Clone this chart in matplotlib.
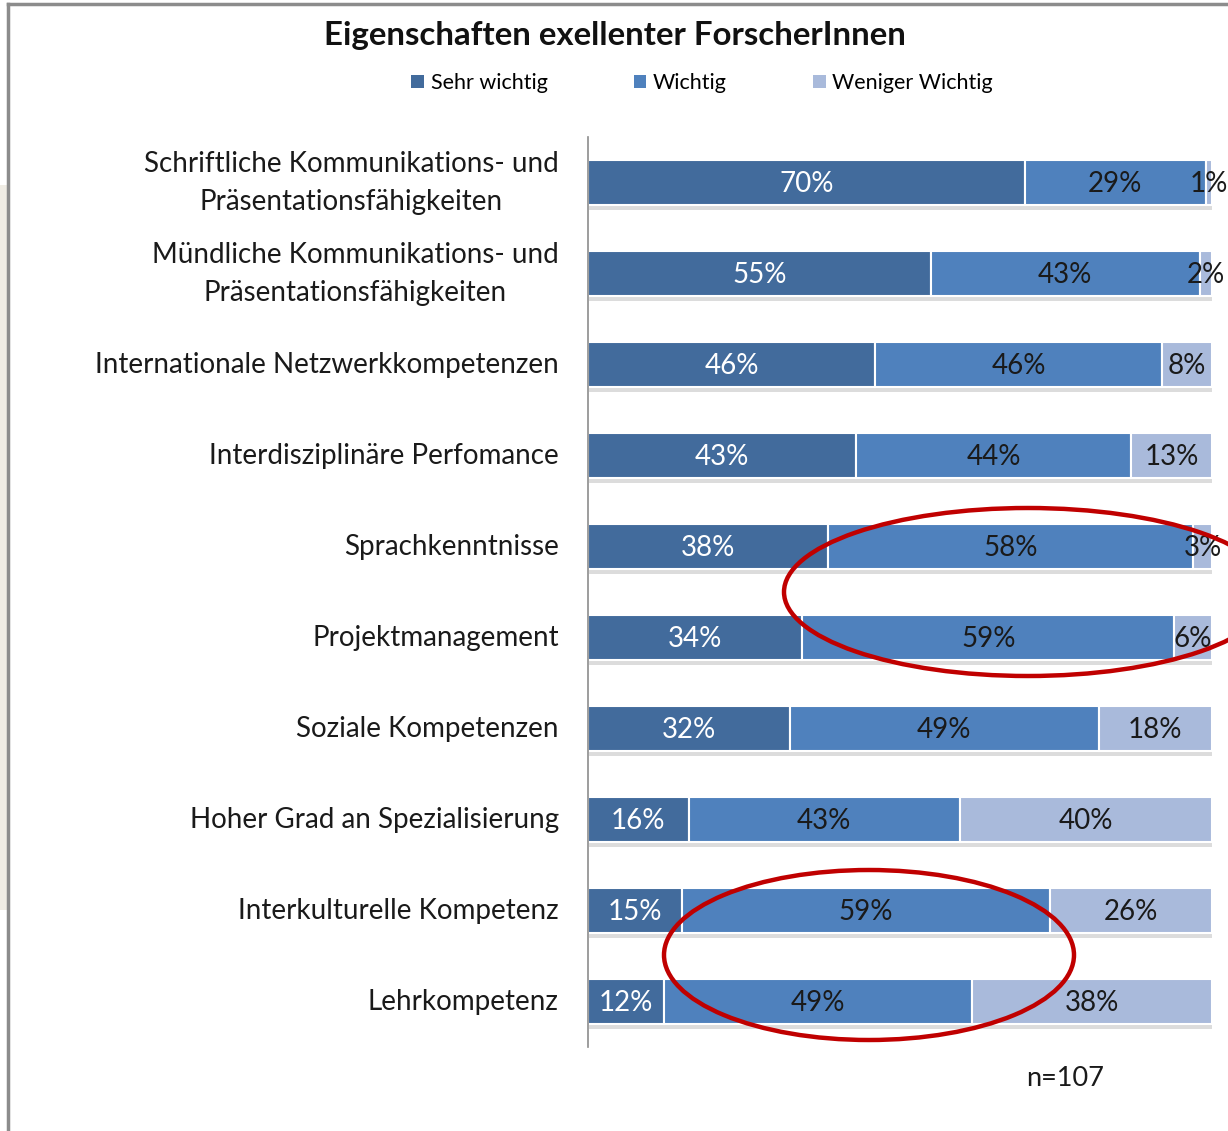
import numpy as np
import matplotlib
matplotlib.use("Agg")
import matplotlib.pyplot as plt
from matplotlib.patches import Ellipse, Rectangle
from matplotlib.lines import Line2D
from matplotlib.transforms import ScaledTranslation
import matplotlib.patheffects as pe

plt.rcParams['font.family'] = ['Lato', 'DejaVu Sans']

# data
categories = [
    "Schriftliche Kommunikations- und\nPräsentationsfähigkeiten",
    "Mündliche Kommunikations- und\nPräsentationsfähigkeiten",
    "Internationale Netzwerkkompetenzen",
    "Interdisziplinäre Perfomance",
    "Sprachkenntnisse",
    "Projektmanagement",
    "Soziale Kompetenzen",
    "Hoher Grad an Spezialisierung",
    "Interkulturelle Kompetenz",
    "Lehrkompetenz",
]
sehr_wichtig = [70, 55, 46, 43, 38, 34, 32, 16, 15, 12]
wichtig = [29, 43, 46, 44, 58, 59, 49, 43, 59, 49]
weniger_wichtig = [1, 2, 8, 13, 3, 6, 18, 40, 26, 38]
series_names = ["Sehr wichtig", "Wichtig", "Weniger Wichtig"]
colors = ["#426B9C", "#4F81BD", "#A9BADB"]
label_colors = ["white", "#1a1a1a", "#1a1a1a"]

W, H = 1228, 1131
fig = plt.figure(figsize=(W / 100, H / 100), dpi=100)

# slide frame and leftover panel on the left
fig.add_artist(Rectangle((0, 1 - 910 / H), 8 / W, (910 - 185) / H,
                         transform=fig.transFigure, color="#EFECE4", lw=0))
fig.add_artist(Line2D([8 / W, 8 / W], [0, 1 - 4 / H], transform=fig.transFigure,
                      color="#8c8c8c", lw=2.5))
fig.add_artist(Line2D([8 / W, 1], [1 - 4 / H, 1 - 4 / H], transform=fig.transFigure,
                      color="#8c8c8c", lw=2.5))

ax = fig.add_axes([588 / W, 84 / H, 624 / W, 910 / H])
y = np.arange(len(categories))
data = np.array([sehr_wichtig, wichtig, weniger_wichtig], dtype=float)
totals = data.sum(axis=0)
shares = data / totals * 100  # 100% stacked like the original
left = np.zeros(len(categories))
shadow = [pe.SimplePatchShadow(offset=(1, -4), shadow_rgbFace="#777777", alpha=0.25),
          pe.Normal()]
for vals, share, name, col, lcol in zip(data, shares, series_names, colors, label_colors):
    ax.barh(y, share, left=left, height=0.49, color=col, edgecolor="white",
            linewidth=1.5, label=name, path_effects=shadow)
    for yi, v, s, l in zip(y, vals, share, left):
        ax.text(l + s / 2, yi + 0.02, f"{int(v)}%", ha="center", va="center",
                color=lcol, fontsize=20, clip_on=False)
    left += share

ax.set_xlim(0, 100)
ax.set_ylim(9.5, -0.5)
ax.set_yticks(y)
ax.set_yticklabels(categories, fontsize=20, color="#1a1a1a",
                   multialignment="center", linespacing=1.55)
ax.tick_params(axis="y", length=0, pad=21)
# two-line labels sit a little higher in the original
for lbl, cat in zip(ax.get_yticklabels(), categories):
    dy = 8 if "\n" in cat else 2
    lbl.set_transform(lbl.get_transform() + ScaledTranslation(0, dy / 100, fig.dpi_scale_trans))
ax.set_xticks([])
for s in ["top", "right", "bottom"]:
    ax.spines[s].set_visible(False)
ax.spines["left"].set_color("#8c8c8c")
ax.spines["left"].set_linewidth(1.2)

fig.text(615 / W, 1 - 35 / H, "Eigenschaften exellenter ForscherInnen",
         ha="center", va="center", fontsize=23.8, fontweight="bold", color="#111111")

leg = fig.legend(loc="center", bbox_to_anchor=(702 / W, 1 - 83 / H), ncol=3,
                 frameon=False, fontsize=15.5, handlelength=0.6, handleheight=0.6,
                 handletextpad=0.3, columnspacing=4.0)
for h in leg.legend_handles:
    h.set_path_effects([])
    h.set_edgecolor("none")

fig.text(1065 / W, 1 - 1078 / H, "n=107", ha="center", va="center",
         fontsize=19.5, color="#1a1a1a")

# red ellipses marking the highlighted bars
fig.add_artist(Ellipse((1028 / W, 1 - 592 / H), 488 / W, 168 / H,
                       transform=fig.transFigure, fill=False,
                       edgecolor="#C00000", lw=3.2))
fig.add_artist(Ellipse((869 / W, 1 - 955 / H), 410 / W, 170 / H,
                       transform=fig.transFigure, fill=False,
                       edgecolor="#C00000", lw=3.2))

fig.savefig("out.png", dpi=100)
